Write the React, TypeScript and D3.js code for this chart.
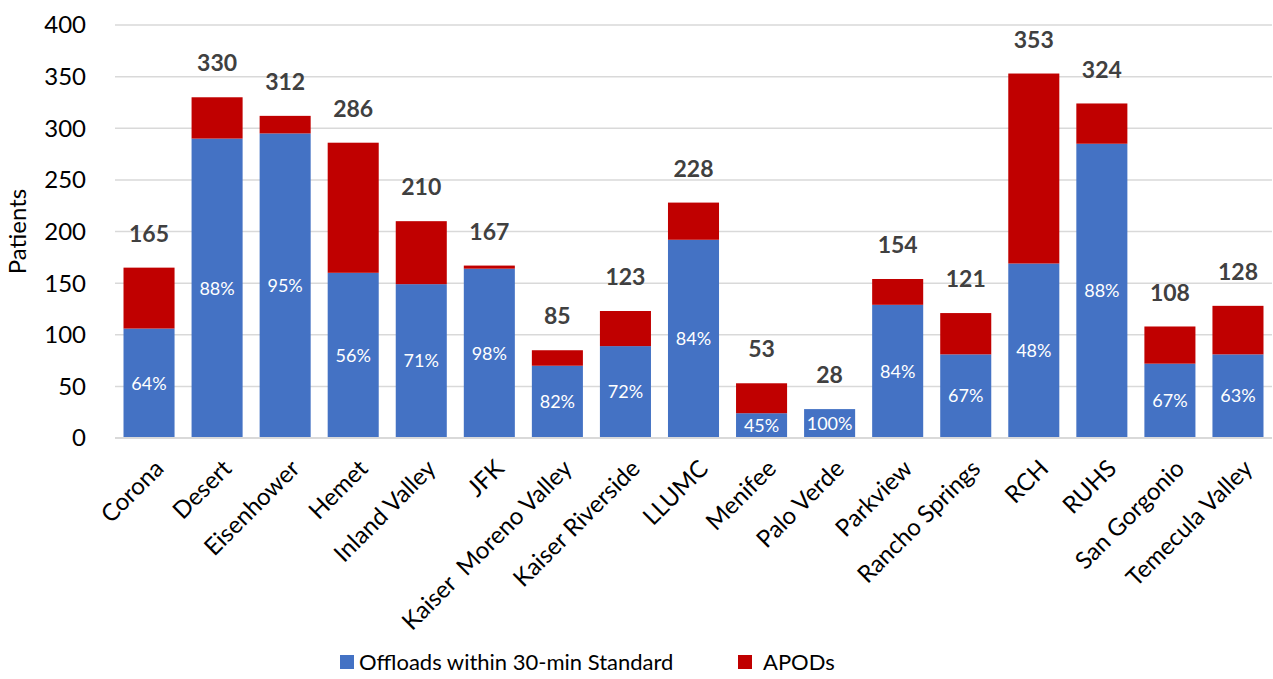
import React, { useEffect, useRef } from 'react'
import * as d3 from 'd3'

const hospitals = [
  'Corona', 'Desert', 'Eisenhower', 'Hemet', 'Inland Valley', 'JFK',
  'Kaiser  Moreno Valley', 'Kaiser Riverside', 'LLUMC', 'Menifee', 'Palo Verde',
  'Parkview', 'Rancho Springs', 'RCH', 'RUHS', 'San Gorgonio', 'Temecula Valley'
]
const totals = [165, 330, 312, 286, 210, 167, 85, 123, 228, 53, 28, 154, 121, 353, 324, 108, 128]
const withinStandard = [106, 290, 295, 160, 149, 164, 70, 89, 192, 24, 28, 129, 81, 169, 285, 72, 81]
const yTicks = [0, 50, 100, 150, 200, 250, 300, 350, 400]
const seriesNames = ['Offloads within 30-min Standard', 'APODs']

const W = 1273
const H = 679
const FONT = 'Lato, "Open Sans", sans-serif'

const App = () => {
  const ref = useRef<SVGSVGElement>(null)

  useEffect(() => {
    const svg = d3.select(ref.current)
    svg.selectAll('*').remove()
    const margin = { top: 25, right: 1, bottom: 241, left: 115 }
    const width = W - margin.left - margin.right
    const height = H - margin.top - margin.bottom
    const blue = '#4472c4'
    const red = '#c00000'

    const x = d3.scaleBand().domain(hospitals).range([0, width]).paddingInner(0.25).paddingOuter(0.125)
    const y = d3.scaleLinear().domain([0, 400]).range([height, 0])

    const g = svg.append('g').attr('transform', `translate(${margin.left},${margin.top})`)

    g.selectAll('.grid')
      .data(yTicks)
      .enter().append('line')
      .attr('x1', 0).attr('x2', width)
      .attr('y1', d => y(d)).attr('y2', d => y(d))
      .attr('stroke', '#d9d9d9').attr('stroke-width', 1.5)

    g.selectAll('.ytick')
      .data(yTicks)
      .enter().append('text')
      .attr('x', -29).attr('y', d => y(d))
      .attr('dy', '0.35em')
      .attr('text-anchor', 'end')
      .attr('font-size', 24).attr('font-family', FONT)
      .attr('fill', '#000')
      .text(d => d)

    svg.append('text')
      .attr('transform', `translate(26,${margin.top + height / 2}) rotate(-90)`)
      .attr('text-anchor', 'middle')
      .attr('font-size', 24).attr('font-family', FONT)
      .text('Patients')

    const rows = hospitals.map((h, i) => ({ h, total: totals[i], blue: withinStandard[i] }))

    g.selectAll('.blue')
      .data(rows)
      .enter().append('rect')
      .attr('x', d => x(d.h)!)
      .attr('width', x.bandwidth())
      .attr('y', d => y(d.blue))
      .attr('height', d => height - y(d.blue))
      .attr('fill', blue)

    g.selectAll('.red')
      .data(rows.filter(d => d.total > d.blue))
      .enter().append('rect')
      .attr('x', d => x(d.h)!)
      .attr('width', x.bandwidth())
      .attr('y', d => y(d.total))
      .attr('height', d => y(d.blue) - y(d.total))
      .attr('fill', red)

    g.append('line')
      .attr('x1', 0).attr('x2', width)
      .attr('y1', height).attr('y2', height)
      .attr('stroke', '#d9d9d9').attr('stroke-width', 2)

    g.selectAll('.pct')
      .data(rows)
      .enter().append('text')
      .attr('x', d => x(d.h)! + x.bandwidth() / 2)
      .attr('y', d => y(d.blue / 2))
      .attr('dy', '0.35em')
      .attr('text-anchor', 'middle')
      .attr('font-size', 18).attr('font-family', FONT)
      .attr('fill', '#fff')
      .text(d => Math.round((d.blue / d.total) * 100) + '%')

    g.selectAll('.total')
      .data(rows)
      .enter().append('text')
      .attr('x', d => x(d.h)! + x.bandwidth() / 2)
      .attr('y', d => y(d.total) - 34)
      .attr('dy', '0.35em')
      .attr('text-anchor', 'middle')
      .attr('font-size', 23).attr('font-weight', 'bold').attr('font-family', FONT)
      .attr('fill', '#404040')
      .text(d => d.total)

    g.selectAll('.xlabel')
      .data(hospitals)
      .enter().append('text')
      .attr('transform', d => `translate(${x(d)! + x.bandwidth() / 2 + 4},${height + 20}) rotate(-45)`)
      .attr('text-anchor', 'end')
      .attr('dy', '0.71em')
      .attr('font-size', 24).attr('font-family', FONT)
      .attr('fill', '#000')
      .style('white-space', 'pre')
      .text(d => d)

    const legend = svg.append('g').attr('transform', 'translate(340,655)')
    const items = [
      { name: seriesNames[0], color: blue, x: 0 },
      { name: seriesNames[1], color: red, x: 398 }
    ]
    items.forEach(it => {
      legend.append('rect').attr('x', it.x).attr('y', 0).attr('width', 14).attr('height', 14).attr('fill', it.color)
      legend.append('text')
        .attr('x', it.x + (it.x === 0 ? 19 : 25)).attr('y', 7).attr('dy', '0.37em')
        .attr('font-size', 22).attr('font-family', FONT)
        .text(it.name)
    })
  }, [])

  return <svg ref={ref} width={W} height={H} style={{ position: 'absolute', left: 0, top: 0 }} />
}

export default App
